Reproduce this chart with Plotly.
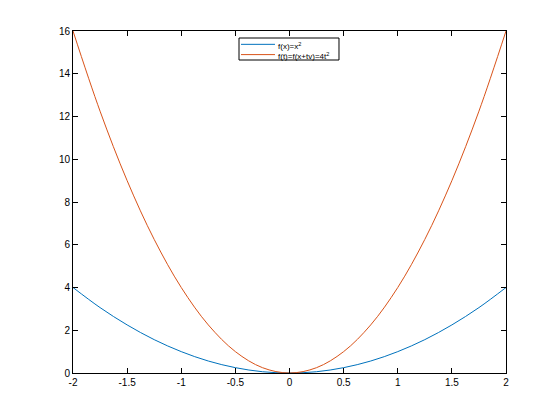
import plotly.graph_objects as go

x_vals = [-2, -1.75, -1.5, -1.25, -1, -0.75, -0.5, -0.25, 0, 0.25, 0.5, 0.75, 1, 1.25, 1.5, 1.75, 2]
y_fx = [4, 3.06, 2.25, 1.56, 1, 0.56, 0.25, 0.06, 0, 0.06, 0.25, 0.56, 1, 1.56, 2.25, 3.06, 4]
y_ft = [16, 12.25, 9, 6.25, 4, 2.25, 1, 0.25, 0, 0.25, 1, 2.25, 4, 6.25, 9, 12.25, 16]
x_ticks = [-2, -1.5, -1, -0.5, 0, 0.5, 1, 1.5, 2]
x_tick_labels = ["-2", "-1.5", "-1", "-0.5", "0", "0.5", "1", "1.5", "2"]
y_ticks = [0, 2, 4, 6, 8, 10, 12, 14, 16]
series_names = ["f(x)=x<sup>2</sup>", "f(t)=f(x+tv)=4t<sup>2</sup>"]
series_colors = ["#0072BD", "#D95319"]

FONT = "Liberation Sans, Arial, sans-serif"

fig = go.Figure()
for ys, name, col in zip([y_fx, y_ft], series_names, series_colors):
    fig.add_trace(go.Scatter(x=x_vals, y=ys, mode="lines", name=name, showlegend=False,
                             line=dict(color=col, width=1, shape="spline")))

axis_common = dict(showgrid=False, zeroline=False, showline=True, linecolor="black", linewidth=1,
                   mirror="ticks", ticks="inside", ticklen=5, tickcolor="black",
                   tickfont=dict(family=FONT, size=10, color="black"))
fig.update_xaxes(range=[-2, 2], tickvals=x_ticks, ticktext=x_tick_labels, **axis_common)
fig.update_yaxes(range=[0, 16], tickvals=y_ticks, **axis_common)

# legend (drawn in paper coordinates)
shapes = [dict(type="rect", xref="paper", yref="paper", x0=0.3834, x1=0.6143, y0=0.9152, y1=0.9795,
               line=dict(color="black", width=1), fillcolor="white", layer="above")]
annotations = []
for name, col, ly in zip(series_names, series_colors, [0.961, 0.931]):
    shapes.append(dict(type="line", xref="paper", yref="paper", x0=0.388, x1=0.4665, y0=ly, y1=ly,
                       line=dict(color=col, width=1), layer="above"))
    annotations.append(dict(xref="paper", yref="paper", x=0.469, y=ly - 0.004, xanchor="left",
                            yanchor="middle", text=name, showarrow=False,
                            font=dict(family=FONT, size=8, color="black")))

fig.update_layout(
    width=560, height=420,
    margin=dict(l=65, r=62, t=23, b=55),
    paper_bgcolor="white", plot_bgcolor="white",
    font=dict(family=FONT, size=10, color="black"),
    shapes=shapes, annotations=annotations,
    showlegend=False,
)

fig.write_html("out.html")
